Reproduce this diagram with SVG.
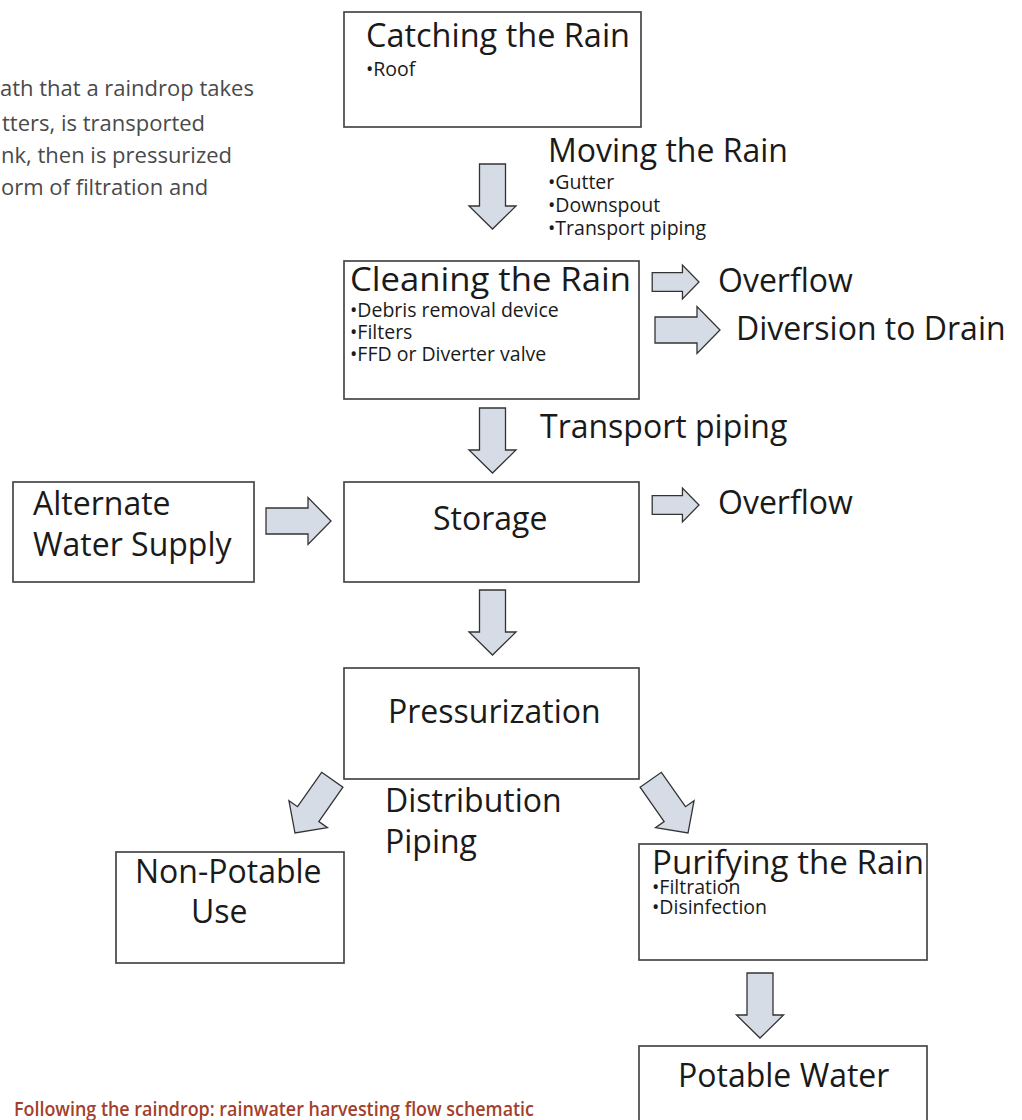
<svg xmlns="http://www.w3.org/2000/svg" xmlns:xlink="http://www.w3.org/1999/xlink" width="1022" height="1120" viewBox="0 0 1022 1120">
<style>
.box{fill:#fff;stroke:#474747;stroke-width:1.7}
.t{font-family:"Open Sans","Noto Sans","Liberation Sans",sans-serif;fill:#1a1a1a}
.big{font-size:32px}
.sm{font-size:19.5px}
.para{font-family:"Open Sans","Noto Sans","Liberation Sans",sans-serif;fill:#4a4a4a;font-size:22px}
.cap{font-family:"Open Sans","Liberation Sans",sans-serif;fill:#a33f2b;font-size:20px;font-weight:600}
.arr{fill:#d6dce6;stroke:#333;stroke-width:1.3;stroke-linejoin:miter}
</style>
<defs>
<path id="arrow" d="M -13,-65 H 13 V -23 H 23.5 L 0,0 L -23.5,-23 H -13 Z"/>
</defs>
<rect width="1022" height="1120" fill="#fff"/>
<g id="intro">
<text class="para" x="0" y="96">ath that a raindrop takes</text>
<text class="para" x="2" y="131">tters, is transported</text>
<text class="para" x="1" y="163">nk, then is pressurized</text>
<text class="para" x="1" y="195">orm of filtration and</text>
</g>
<g id="connectors">
<use xlink:href="#arrow" class="arr" transform="translate(492.5,229)"/>
<use xlink:href="#arrow" class="arr" transform="translate(492.5,473)"/>
<use xlink:href="#arrow" class="arr" transform="translate(492.5,655)"/>
<use xlink:href="#arrow" class="arr" transform="translate(760,1038)"/>
<use xlink:href="#arrow" class="arr" transform="translate(331,521) rotate(-90)"/>
<use xlink:href="#arrow" class="arr" transform="translate(720,330) rotate(-90)"/>
<use xlink:href="#arrow" class="arr" style="stroke-width:1.8" transform="translate(699,282) rotate(-90) scale(0.72)"/>
<use xlink:href="#arrow" class="arr" style="stroke-width:1.8" transform="translate(699,505) rotate(-90) scale(0.72)"/>
<use xlink:href="#arrow" class="arr" transform="translate(295,833) rotate(35)"/>
<use xlink:href="#arrow" class="arr" transform="translate(688,833) rotate(-35)"/>
</g>
<g id="catching">
<rect class="box" x="344" y="12" width="297" height="115"/>
<text class="t big" x="366" y="47" textLength="264" lengthAdjust="spacingAndGlyphs">Catching the Rain</text>
<text class="t sm" x="366" y="76">•Roof</text>
</g>
<g id="moving">
<text class="t big" x="548" y="162">Moving the Rain</text>
<text class="t sm" x="548" y="189">•Gutter</text>
<text class="t sm" x="548" y="212">•Downspout</text>
<text class="t sm" x="548" y="235">•Transport piping</text>
</g>
<g id="cleaning">
<rect class="box" x="344" y="261" width="295" height="138"/>
<text class="t big" x="350" y="291" textLength="281" lengthAdjust="spacingAndGlyphs">Cleaning the Rain</text>
<text class="t sm" x="350" y="317">•Debris removal device</text>
<text class="t sm" x="350" y="339">•Filters</text>
<text class="t sm" x="350" y="361">•FFD  or Diverter valve</text>
</g>
<g id="overflow1"><text class="t big" x="718" y="292">Overflow</text></g>
<g id="diversion"><text class="t big" x="736" y="340">Diversion to Drain</text></g>
<g id="transport"><text class="t big" x="540" y="438">Transport piping</text></g>
<g id="alternate">
<rect class="box" x="13" y="482" width="241" height="100"/>
<text class="t big" x="33" y="515">Alternate</text>
<text class="t big" x="33" y="556">Water Supply</text>
</g>
<g id="storage">
<rect class="box" x="344" y="482" width="295" height="100"/>
<text class="t big" x="433" y="530">Storage</text>
</g>
<g id="overflow2"><text class="t big" x="718" y="514">Overflow</text></g>
<g id="pressurization">
<rect class="box" x="344" y="668" width="295" height="111"/>
<text class="t big" x="388" y="723">Pressurization</text>
</g>
<g id="distribution">
<text class="t big" x="385" y="812">Distribution</text>
<text class="t big" x="385" y="853">Piping</text>
</g>
<g id="nonpotable">
<rect class="box" x="116" y="852" width="228" height="111"/>
<text class="t big" x="135" y="883">Non-Potable</text>
<text class="t big" x="191" y="923">Use</text>
</g>
<g id="purifying">
<rect class="box" x="639" y="844" width="288" height="116"/>
<text class="t big" x="652" y="874" textLength="272" lengthAdjust="spacingAndGlyphs">Purifying the Rain</text>
<text class="t sm" x="652" y="894">•Filtration</text>
<text class="t sm" x="652" y="914">•Disinfection</text>
</g>
<g id="potable">
<rect class="box" x="639" y="1046" width="288" height="90"/>
<text class="t big" x="678" y="1087">Potable Water</text>
</g>
<text class="cap" x="14" y="1116" textLength="520" lengthAdjust="spacingAndGlyphs">Following the raindrop: rainwater harvesting flow schematic</text>
</svg>
